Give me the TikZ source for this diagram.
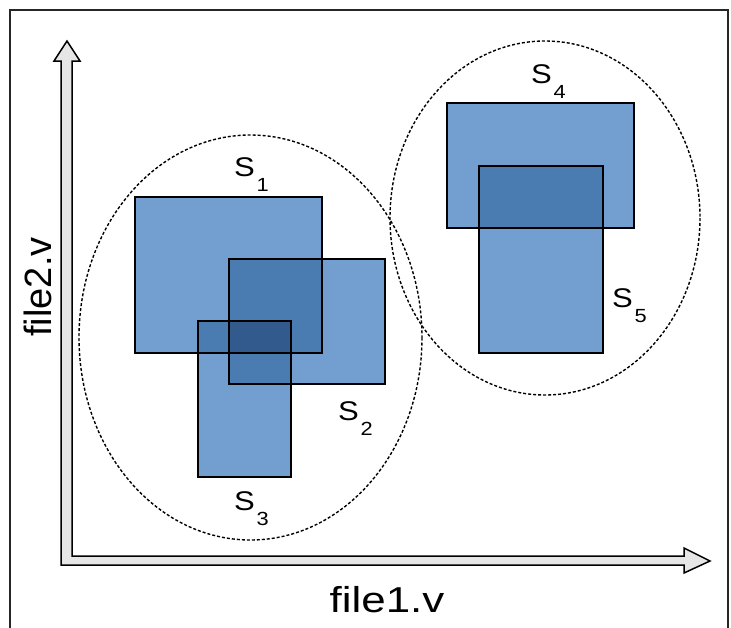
\documentclass[tikz,border=0pt]{standalone}
\usepackage{fontspec}
\setmainfont{Liberation Sans}
\definecolor{bone}{RGB}{114,159,207}
\definecolor{btwo}{RGB}{74,124,178}
\definecolor{bthree}{RGB}{50,90,140}
\definecolor{axisfill}{RGB}{230,230,230}
\newcommand{\setlbl}[1]{\scalebox{1.15}[1]{S\hspace{1.5pt}\raisebox{-15pt}{\fontsize{19}{19}\selectfont #1}}}
\begin{document}
\begin{tikzpicture}[x=1pt,y=-1pt,
  setbox/.style={draw=black,line width=1.6pt},
  grp/.style={draw=black,line width=1.4pt,dash pattern=on 3pt off 2pt},
  lbl/.style={inner sep=0pt,font=\fontsize{27}{27}\selectfont},
  axlbl/.style={inner sep=0pt,font=\fontsize{36}{36}\selectfont}]
\useasboundingbox (0,0) rectangle (731,627);
% frame
\draw[line width=1.5pt,black!85] (10,640) -- (10,10) -- (728,10) -- (728,640);
% axes
\draw[line width=1.5pt,fill=axisfill,line join=miter]
  (67,41) -- (80,61) -- (72,61) -- (72,556) -- (684,556) -- (684,548)
  -- (710,561) -- (684,573) -- (684,565) -- (61,565) -- (61,61) -- (54,61) -- cycle;
% fills
\fill[bone] (135,197) rectangle (322,353);
\fill[bone] (229,259) rectangle (385,384);
\fill[bone] (198,321) rectangle (291,477);
\fill[bone] (447,103) rectangle (634,228);
\fill[bone] (479,166) rectangle (603,353);
\fill[btwo] (229,259) rectangle (322,353);
\fill[btwo] (198,321) rectangle (291,353);
\fill[btwo] (229,321) rectangle (291,384);
\fill[btwo] (479,166) rectangle (603,228);
\fill[bthree] (229,321) rectangle (291,353);
% outlines
\draw[setbox] (135,197) rectangle (322,353);
\draw[setbox] (229,259) rectangle (385,384);
\draw[setbox] (198,321) rectangle (291,477);
\draw[setbox] (447,103) rectangle (634,228);
\draw[setbox] (479,166) rectangle (603,353);
% groups
\draw[grp] (250.5,337.5) ellipse [x radius=171.5, y radius=202.5];
\draw[grp] (545,218) ellipse [x radius=155, y radius=177];
% labels
\node[lbl,anchor=base west] (s1) at (234,176) {\setlbl{1}};
\node[lbl,anchor=base west] (s2) at (338,420) {\setlbl{2}};
\node[lbl,anchor=base west] (s3) at (234,510) {\setlbl{3}};
\node[lbl,anchor=base west] (s4) at (531,83) {\setlbl{4}};
\node[lbl,anchor=base west] (s5) at (612,307) {\setlbl{5}};
\node[axlbl] (xl) at (387,600) {\scalebox{1.22}[1]{file1.v}};
\node[axlbl,font=\fontsize{38}{38}\selectfont,rotate=90] (yl) at (38,287) {file2.v};
\end{tikzpicture}
\end{document}
